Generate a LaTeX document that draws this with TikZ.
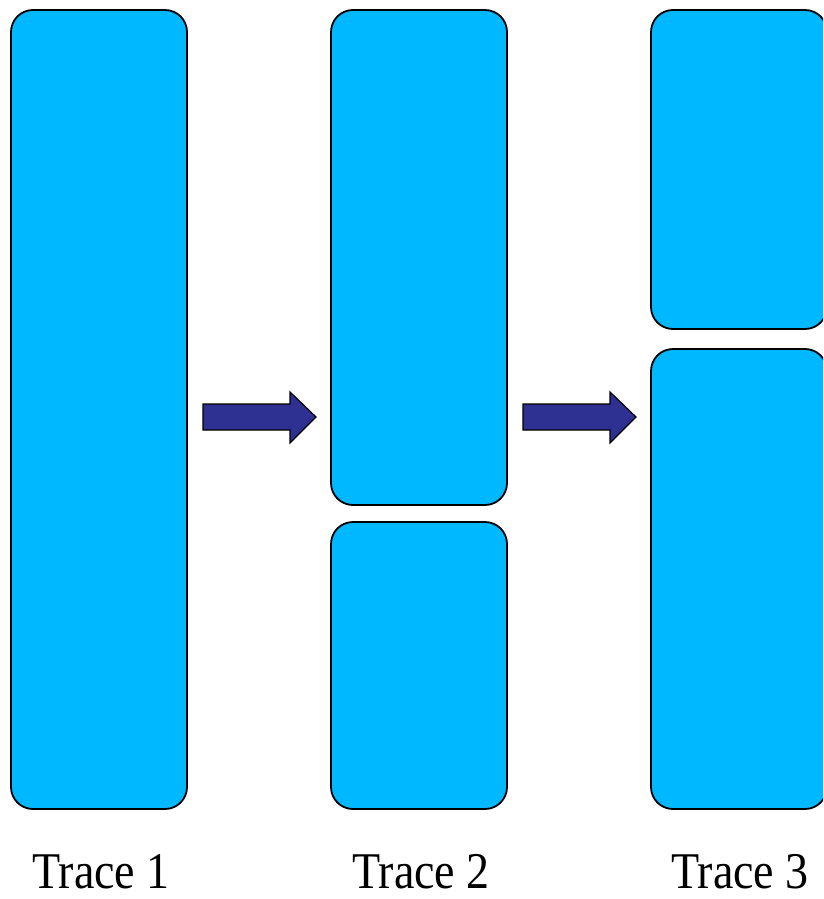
\documentclass[tikz,border=0pt]{standalone}
\usepackage{fontspec}
\setmainfont{Liberation Serif}
\begin{document}
\begin{tikzpicture}[x=1pt,y=-1pt,
  segbox/.style={draw=black,line width=1.8pt,fill=traceblue,rounded corners=22pt},
  shiftarrow/.style={draw=black,line width=1.2pt,fill=arrowblue},
  label/.style={font=\fontsize{46}{50}\selectfont,anchor=base,inner sep=0pt,
    text depth=0pt,yscale=1.12}]
\definecolor{traceblue}{RGB}{0,184,255}
\definecolor{arrowblue}{RGB}{46,49,146}
\useasboundingbox (0,0) rectangle (823,899);
\begin{scope}
\clip (0,0) rectangle (823,899);
% trace 1: one undivided segment
\draw[segbox] (11,10) rectangle (187,809);
% trace 2: split into two
\draw[segbox] (331,10) rectangle (507,505);
\draw[segbox] (331,522) rectangle (507,809);
% trace 3: split at a different point
\draw[segbox] (651,10) rectangle (827,329);
\draw[segbox] (651,349) rectangle (827,809);
% block arrows between traces
\foreach \x in {203,523} {
  \draw[shiftarrow] (\x,404) -- (\x+87,404) -- (\x+87,392) -- (\x+113,417)
    -- (\x+87,443) -- (\x+87,430) -- (\x,430) -- cycle;
}
\end{scope}
\node[label] (t1) at (101,888) {Trace 1};
\node[label] (t2) at (421,888) {Trace 2};
\node[label] (t3) at (740,888) {Trace 3};
\end{tikzpicture}
\end{document}
